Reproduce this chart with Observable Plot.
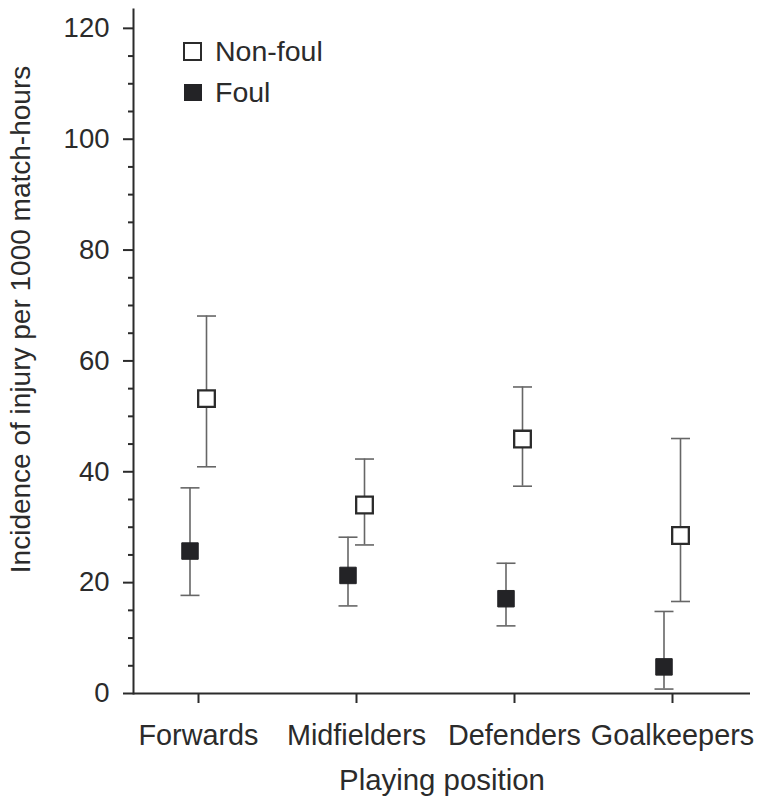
<!DOCTYPE html>
<html>
<head>
<meta charset="utf-8">
<script src="https://cdn.jsdelivr.net/npm/d3@7"></script>
<script src="https://cdn.jsdelivr.net/npm/@observablehq/plot@0.6"></script>
<style>
  body { margin: 0; background: #fff; }
  #chart { position: relative; width: 757px; height: 802px; font-family: "Liberation Sans", Arial, sans-serif; color: #2b2b2b; }
  .legend-item { position: absolute; left: 183px; height: 30px; display: flex; align-items: center; font-size: 28.5px; }
  .swatch { box-sizing: border-box; width: 19px; height: 19px; margin-right: 13px; }
  .swatch.hollow { background: #fff; border: 2.3px solid #2b2b2b; }
  .swatch.solid { background: #232326; width: 18px; height: 17px; margin-left: 1px; margin-right: 13px; }
</style>
</head>
<body>
<div id="chart"></div>
<script>
// Injury incidence (per 1000 match-hours) by playing position, with 95% CIs
const positions = ["Forwards", "Midfielders", "Defenders", "Goalkeepers"];
const nonFoulRate  = [53.2, 34.0, 45.9, 28.5];
const nonFoulLower = [40.9, 26.8, 37.4, 16.6];
const nonFoulUpper = [68.1, 42.3, 55.3, 46.0];
const foulRate  = [25.7, 21.3, 17.1, 4.8];
const foulLower = [17.7, 15.8, 12.2, 0.8];
const foulUpper = [37.1, 28.2, 23.5, 14.8];
const groups = ["Non-foul", "Foul"];
const yMajorTicks = [0, 20, 40, 60, 80, 100, 120];
const yMinorTicks = [5, 10, 15, 25, 30, 35, 45, 50, 55, 65, 70, 75, 85, 90, 95, 105, 110, 115];
const xTitle = "Playing position";
const yTitle = "Incidence of injury per 1000 match-hours";

const rowsFor = (rate, lower, upper) =>
  positions.map((position, i) => ({position, rate: rate[i], lower: lower[i], upper: upper[i]}));
const nonFoul = rowsFor(nonFoulRate, nonFoulLower, nonFoulUpper);
const foul = rowsFor(foulRate, foulLower, foulUpper);

// horizontal end cap for the error bars
const capSymbol = {draw(ctx) { ctx.moveTo(-9.5, 0); ctx.lineTo(9.5, 0); }};
const barColor = "#666";
const ink = "#2b2b2b";

function errorBars(rows, dx) {
  return [
    Plot.ruleX(rows, {x: "position", y1: "lower", y2: "upper", dx, stroke: barColor, strokeWidth: 1.6}),
    Plot.dot(rows, {x: "position", y: "lower", dx, symbol: capSymbol, r: 5, fill: "none", stroke: barColor, strokeWidth: 1.6}),
    Plot.dot(rows, {x: "position", y: "upper", dx, symbol: capSymbol, r: 5, fill: "none", stroke: barColor, strokeWidth: 1.6})
  ];
}

const chart = Plot.plot({
  width: 757,
  height: 802,
  marginLeft: 133,
  marginRight: 7,
  marginTop: 9,
  marginBottom: 109,
  style: {fontFamily: "'Liberation Sans', Arial, sans-serif", fontSize: "26px", color: ink, background: "#fff"},
  x: {type: "point", domain: positions, range: [197.7, 671.7], padding: 0},
  y: {domain: [0, 123.4]},
  marks: [
    Plot.axisY(yMinorTicks, {tickSize: 5, tickFormat: () => "", strokeWidth: 2, label: null}),
    Plot.axisY(yMajorTicks, {tickSize: 10, tickPadding: 14, fontSize: 27.5, strokeWidth: 2, label: null}),
    Plot.axisX({tickSize: 10, tickPadding: 21, fontSize: 28.8, strokeWidth: 2, label: null}),
    Plot.frame({anchor: "left", stroke: ink, strokeWidth: 2}),
    Plot.ruleY([0], {stroke: ink, strokeWidth: 2}),
    ...errorBars(foul, -8.5),
    ...errorBars(nonFoul, 8),
    Plot.dot(foul, {x: "position", y: "rate", dx: -8.5, symbol: "square", r: 9.3, fill: "#232326", stroke: "#232326", strokeWidth: 1}),
    Plot.dot(nonFoul, {x: "position", y: "rate", dx: 8, symbol: "square", r: 9.4, fill: "#fff", stroke: ink, strokeWidth: 2.3}),
    Plot.text([xTitle], {text: d => d, frameAnchor: "bottom", dy: 87, lineAnchor: "middle", fontSize: 29.4, fill: ink}),
    Plot.text([yTitle], {text: d => d, frameAnchor: "left", rotate: -90, dx: -112, dy: -32, lineAnchor: "middle", textAnchor: "middle", fontSize: 28, fill: ink})
  ]
});

const container = document.getElementById("chart");
container.appendChild(chart);

// legend drawn over the top-left of the plot area
const legendTops = [36, 77];
groups.forEach((g, i) => {
  const item = document.createElement("div");
  item.className = "legend-item";
  item.style.top = legendTops[i] + "px";
  const sw = document.createElement("span");
  sw.className = "swatch " + (g === "Foul" ? "solid" : "hollow");
  item.appendChild(sw);
  item.appendChild(document.createTextNode(g));
  container.appendChild(item);
});
</script>
</body>
</html>
